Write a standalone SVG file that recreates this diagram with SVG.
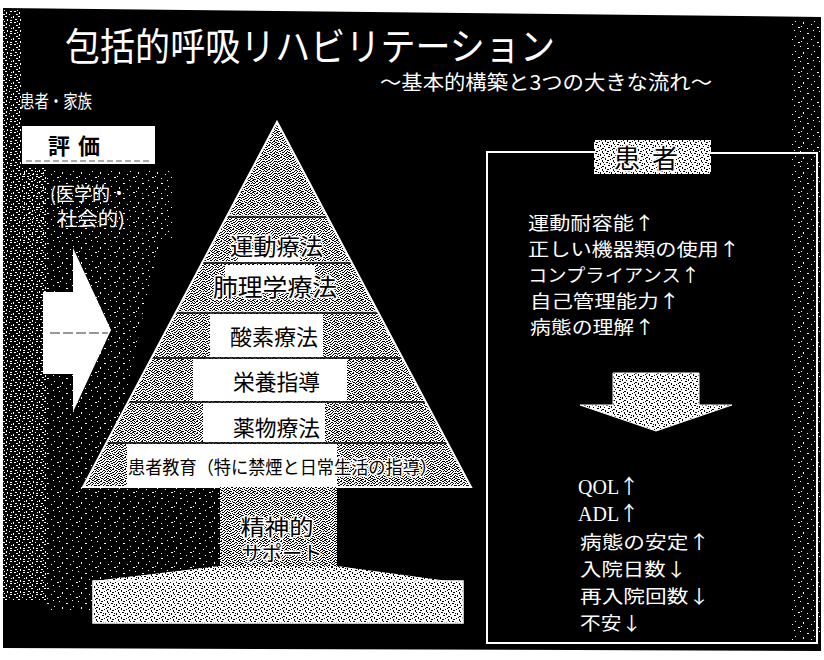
<svg xmlns="http://www.w3.org/2000/svg" width="824" height="660" viewBox="0 0 824 660">
<style>
.jp{font-family:"Noto Sans CJK JP","Noto Sans CJK SC",sans-serif}
.wt{fill:#fff}
.bk{fill:#000;stroke:#fff;stroke-width:3;paint-order:stroke;stroke-linejoin:round}
.rl{font-size:18px}
.rl2{font-size:18.5px}
.sep{stroke:#000;stroke-width:1.6}
.sepw{stroke:#fff;stroke-width:1}
</style>
<defs>
<pattern id="dith" width="12" height="12" patternUnits="userSpaceOnUse">
<rect width="12" height="12" fill="#fff"/>
<path fill="#000" d="M0 0h2v1h-2zM5 0h1v1h-1zM8 0h2v1h-2zM2 1h1v1h-1zM4 1h2v1h-2zM10 1h2v1h-2zM0 2h1v1h-1zM3 2h1v1h-1zM7 2h2v1h-2zM1 3h2v1h-2zM6 3h1v1h-1zM9 3h1v1h-1zM11 3h1v1h-1zM4 4h2v1h-2zM8 4h1v1h-1zM0 5h1v1h-1zM2 5h2v1h-2zM7 5h1v1h-1zM10 5h2v1h-2zM1 6h1v1h-1zM5 6h2v1h-2zM9 6h1v1h-1zM3 7h2v1h-2zM8 7h1v1h-1zM11 7h1v1h-1zM0 8h2v1h-2zM6 8h2v1h-2zM10 8h1v1h-1zM2 9h1v1h-1zM4 9h1v1h-1zM9 9h2v1h-2zM0 10h1v1h-1zM5 10h2v1h-2zM8 10h1v1h-1zM11 10h1v1h-1zM1 11h3v1h-3zM7 11h1v1h-1zM10 11h1v1h-1z"/>
</pattern>
<pattern id="dithL" width="11" height="9" patternUnits="userSpaceOnUse">
<rect width="11" height="9" fill="#fff"/>
<path fill="#000" d="M1 0h2v1h-2zM6 1h1v2h-1zM9 0h1v1h-1zM3 3h2v1h-2zM8 4h2v1h-2zM0 5h1v2h-1zM5 6h1v1h-1zM2 7h2v1h-2zM8 7h1v2h-1zM4 1h1v1h-1zM10 2h1v1h-1zM7 5h1v1h-1z"/>
</pattern>
<pattern id="spkM" width="13" height="11" patternUnits="userSpaceOnUse">
<path fill="#fff" d="M1 0h2v1h-2zM6 1h1v2h-1zM10 0h2v1h-2zM3 3h2v1h-2zM9 3h1v1h-1zM0 5h1v2h-1zM5 5h2v1h-2zM11 6h1v1h-1zM2 8h2v1h-2zM7 8h1v2h-1zM10 9h2v1h-2zM4 10h1v1h-1z"/>
</pattern>
<pattern id="spk" width="19" height="15" patternUnits="userSpaceOnUse">
<path fill="#fff" d="M2 1h1v1h-1zM9 3h2v1h-2zM15 0h1v1h-1zM5 7h1v2h-1zM13 9h1v1h-1zM0 12h2v1h-2zM9 13h1v1h-1zM16 6h1v1h-1zM3 11h1v1h-1z"/>
</pattern>
<clipPath id="tri"><polygon points="277,122 83,487 471,487"/></clipPath>
</defs>

<rect width="824" height="660" fill="#fff"/>
<polygon points="3,8 821,17 821,651 3,648" fill="#000"/>

<g id="texture">
<polygon fill="url(#spkM)" points="3,10 22,10 22,168 46,168 46,600 3,600"/>
<rect fill="url(#spk)" x="22" y="170" width="150" height="70"/>
<polygon fill="url(#spk)" points="46,240 160,240 120,420 220,420 220,610 46,610"/>
<rect fill="url(#spk)" x="790" y="20" width="30" height="620"/>
</g>

<g id="title">
<text class="jp wt" x="65" y="60" font-size="38" textLength="490" lengthAdjust="spacingAndGlyphs">包括的呼吸リハビリテーション</text>
<text class="jp wt" x="380" y="90" font-size="20" textLength="332" lengthAdjust="spacingAndGlyphs">〜基本的構築と3つの大きな流れ〜</text>
</g>

<g id="patient-family">
<text class="jp wt" x="20" y="108" font-size="18" textLength="72" lengthAdjust="spacingAndGlyphs">患者・家族</text>
</g>

<g id="evaluation">
<rect x="22" y="126" width="133" height="38" fill="#fff"/>
<line x1="26" y1="161" x2="152" y2="161" stroke="#555" stroke-width="1" stroke-dasharray="6 3"/>
<text class="jp" x="78" y="154" font-size="22" font-weight="bold" text-anchor="middle" letter-spacing="8">評価</text>
<text class="jp wt" x="50" y="201" font-size="19" textLength="78" lengthAdjust="spacingAndGlyphs">(医学的・</text>
<text class="jp wt" x="57" y="226" font-size="19" textLength="68" lengthAdjust="spacingAndGlyphs">社会的)</text>
</g>

<g id="pyramid">
<g clip-path="url(#tri)">
<rect x="80" y="120" width="395" height="370" fill="url(#dith)"/>
<rect x="238" y="252" width="62" height="10" fill="#fff"/>
<rect x="225" y="265" width="90" height="26" fill="#fff"/>
<rect x="210" y="314" width="113" height="43" fill="#fff"/>
<rect x="193" y="359" width="154" height="42" fill="#fff"/>
<rect x="203" y="403" width="122" height="39" fill="#fff"/>
<rect x="127" y="444" width="210" height="42" fill="#fff"/>
<line class="sepw" x1="80" y1="215.8" x2="475" y2="215.8"/>
<line class="sep" x1="80" y1="217" x2="475" y2="217"/>
<line class="sepw" x1="80" y1="261.8" x2="475" y2="261.8"/>
<line class="sep" x1="80" y1="263" x2="475" y2="263"/>
<line class="sepw" x1="80" y1="311.8" x2="475" y2="311.8"/>
<line class="sep" x1="80" y1="313" x2="475" y2="313"/>
<line class="sep" x1="80" y1="358" x2="475" y2="358"/>
<line class="sep" x1="80" y1="402" x2="475" y2="402"/>
<line class="sep" x1="80" y1="443" x2="475" y2="443"/>
</g>
<polygon points="277,122 83,487 471,487" fill="none" stroke="#fff" stroke-width="2"/>
<text class="jp bk" x="230" y="255" font-size="23" textLength="93" lengthAdjust="spacingAndGlyphs">運動療法</text>
<text class="jp bk" x="213" y="296" font-size="24" textLength="124" lengthAdjust="spacingAndGlyphs">肺理学療法</text>
<text class="jp" x="230" y="345" font-size="22" textLength="88" lengthAdjust="spacingAndGlyphs">酸素療法</text>
<text class="jp" x="233" y="390" font-size="22" textLength="87" lengthAdjust="spacingAndGlyphs">栄養指導</text>
<text class="jp bk" x="233" y="436" font-size="22" textLength="87" lengthAdjust="spacingAndGlyphs">薬物療法</text>
<text class="jp bk" x="128" y="474" font-size="18" textLength="309" lengthAdjust="spacingAndGlyphs">患者教育（特に禁煙と日常生活の指導）</text>
</g>

<g id="support">
<polygon points="220,566 93,581 463,583 337,566" fill="url(#dithL)"/>
<rect x="220" y="487" width="117" height="80" fill="url(#dith)"/>
<rect x="93" y="581" width="370" height="42" fill="url(#dithL)" stroke="#fff" stroke-width="1.5"/>
<text class="jp bk" x="277" y="535" font-size="22" text-anchor="middle" textLength="73" lengthAdjust="spacingAndGlyphs">精神的</text>
<text class="jp bk" x="282" y="561" font-size="20" text-anchor="middle" textLength="81" lengthAdjust="spacingAndGlyphs">サポート</text>
</g>

<g id="patient-box">
<polyline points="594,152 487,152 487,643 817,643 817,153 711,153" fill="none" stroke="#fff" stroke-width="2"/>
<rect x="594" y="140" width="117" height="34" fill="url(#dithL)"/>
<text class="jp bk" x="652" y="168" font-size="26" text-anchor="middle" letter-spacing="12">患者</text>
</g>

<g id="effects-1">
<text class="jp wt rl" x="528" y="230" textLength="127" lengthAdjust="spacingAndGlyphs">運動耐容能↑</text>
<text class="jp wt rl" x="528" y="256" textLength="212" lengthAdjust="spacingAndGlyphs">正しい機器類の使用↑</text>
<text class="jp wt rl" x="528" y="282" textLength="172" lengthAdjust="spacingAndGlyphs">コンプライアンス↑</text>
<text class="jp wt rl" x="530" y="308" textLength="150" lengthAdjust="spacingAndGlyphs">自己管理能力↑</text>
<text class="jp wt rl" x="530" y="334" textLength="125" lengthAdjust="spacingAndGlyphs">病態の理解↑</text>
</g>

<g id="effects-2">
<text class="wt" x="578" y="494" font-family="'Liberation Serif',serif" font-size="20">QOL<tspan class="jp">↑</tspan></text>
<text class="wt" x="578" y="521" font-family="'Liberation Serif',serif" font-size="20">ADL<tspan class="jp">↑</tspan></text>
<text class="jp wt rl2" x="580" y="549" textLength="130" lengthAdjust="spacingAndGlyphs">病態の安定↑</text>
<text class="jp wt rl2" x="580" y="576" textLength="107" lengthAdjust="spacingAndGlyphs">入院日数↓</text>
<text class="jp wt rl2" x="580" y="603" textLength="130" lengthAdjust="spacingAndGlyphs">再入院回数↓</text>
<text class="jp wt rl2" x="580" y="630" textLength="62" lengthAdjust="spacingAndGlyphs">不安↓</text>
</g>

<g id="connectors">
<polygon points="43,292 73,292 73,248 111,330 73,412 73,374 43,374" fill="#fff"/>
<line x1="50" y1="333" x2="108" y2="333" stroke="#333" stroke-width="1.2" stroke-dasharray="10 3"/>
<polygon points="613,373 699,373 699,405 732,405 656,431 580,405 613,405" fill="url(#dithL)" stroke="#fff" stroke-width="1"/>
</g>
</svg>
